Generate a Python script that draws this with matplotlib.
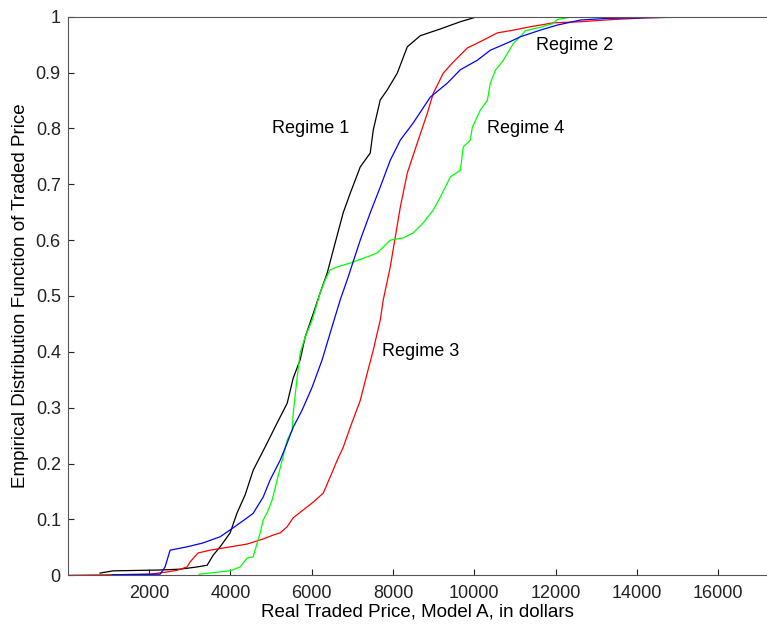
import numpy as np
import matplotlib
matplotlib.use("Agg")
import matplotlib.pyplot as plt

plt.rcParams['font.family'] = ['Liberation Sans', 'DejaVu Sans']

# Regime 1 (black)
r1_price = [795, 1115, 2272, 2764, 3183, 3429, 3577, 3749, 3995, 4167, 4364, 4561,
            4906, 5152, 5398, 5546, 5718, 5841, 6013, 6210, 6382, 6530, 6776, 6949,
            7195, 7441, 7515, 7687, 7860, 8106, 8352, 8672, 9164, 9657, 10075]
r1_cdf = [0.004, 0.008, 0.0095, 0.011, 0.015, 0.018, 0.036, 0.051, 0.076, 0.112, 0.144, 0.188,
          0.237, 0.273, 0.308, 0.353, 0.386, 0.427, 0.463, 0.506, 0.541, 0.582, 0.649, 0.684,
          0.731, 0.756, 0.797, 0.851, 0.869, 0.899, 0.946, 0.966, 0.978, 0.991, 1.0]

# Regime 2 (blue)
r2_price = [1100, 2272, 2395, 2518, 2936, 3330, 3749, 4069, 4414, 4561, 4807, 4980,
            5226, 5398, 5546, 5767, 6013, 6259, 6456, 6702, 6875, 7195, 7441, 7687,
            7933, 8180, 8500, 8918, 9336, 9657, 10075, 10395, 10813, 11133, 11625,
            12044, 12610, 13275, 14900, 15800, 17200]
r2_cdf = [0.001, 0.002, 0.015, 0.045, 0.051, 0.058, 0.069, 0.085, 0.103, 0.111, 0.140, 0.171,
          0.206, 0.237, 0.265, 0.296, 0.337, 0.386, 0.434, 0.493, 0.529, 0.600, 0.649, 0.695,
          0.743, 0.779, 0.810, 0.856, 0.881, 0.905, 0.922, 0.940, 0.953, 0.964, 0.976,
          0.985, 0.994, 0.997, 0.999, 1.0, 1.0]

# Regime 3 (red)
r3_price = [0, 2026, 2444, 2690, 2936, 3010, 3207, 3503, 3921, 4413, 4807, 5053, 5226,
            5398, 5546, 5792, 6038, 6284, 6456, 6628, 6776, 6949, 7195, 7367, 7515,
            7687, 7761, 7933, 8180, 8352, 8598, 8844, 8992, 9238, 9484, 9829, 10223,
            10567, 10961, 11379, 11945, 12610, 13422, 14259, 15563]
r3_cdf = [0.0, 0.002, 0.006, 0.009, 0.015, 0.024, 0.040, 0.045, 0.050, 0.056, 0.065, 0.072, 0.076,
          0.087, 0.103, 0.117, 0.131, 0.147, 0.176, 0.206, 0.229, 0.265, 0.313, 0.362, 0.403,
          0.457, 0.493, 0.552, 0.659, 0.720, 0.774, 0.827, 0.863, 0.899, 0.919, 0.944, 0.958,
          0.971, 0.976, 0.982, 0.989, 0.991, 0.995, 0.998, 1.0]

# Regime 4 (green)
r4_price = [3232, 3995, 4241, 4414, 4561, 4660, 4734, 4807, 4906, 5029, 5152, 5275,
            5398, 5521, 5546, 5644, 5718, 5841, 6013, 6210, 6333, 6456, 6628, 6949,
            7367, 7613, 7933, 8254, 8500, 8746, 8992, 9164, 9336, 9410, 9657, 9730,
            9903, 9952, 10149, 10321, 10395, 10518, 10715, 10813, 10961, 11207, 11256,
            11625, 11945, 12044, 12364, 12782]
r4_cdf = [0.002, 0.008, 0.015, 0.031, 0.033, 0.058, 0.076, 0.099, 0.112, 0.135, 0.171, 0.206,
          0.242, 0.260, 0.290, 0.355, 0.398, 0.427, 0.457, 0.506, 0.529, 0.547, 0.552, 0.559,
          0.570, 0.577, 0.600, 0.604, 0.613, 0.631, 0.654, 0.677, 0.702, 0.713, 0.725, 0.767,
          0.779, 0.802, 0.833, 0.850, 0.881, 0.904, 0.922, 0.934, 0.952, 0.970, 0.975,
          0.981, 0.988, 0.995, 0.999, 1.0]

x_ticks = [2000, 4000, 6000, 8000, 10000, 12000, 14000, 16000]
y_ticks = [0, 0.1, 0.2, 0.3, 0.4, 0.5, 0.6, 0.7, 0.8, 0.9, 1]
y_labels = ['0', '0.1', '0.2', '0.3', '0.4', '0.5', '0.6', '0.7', '0.8', '0.9', '1']

fig = plt.figure(figsize=(7.67, 6.25), dpi=100)
ax = fig.add_axes([0.0883, 0.0795, 0.9117, 0.8938])

lw = 0.9
ax.plot(r1_price, r1_cdf, color='black', lw=lw)
ax.plot(r3_price, r3_cdf, color='#ff0000', lw=lw)
ax.plot(r4_price, r4_cdf, color='#00ff00', lw=lw)
ax.plot(r2_price, r2_cdf, color='#0000ff', lw=lw)

ax.set_xlim(0, 17200)
ax.set_ylim(0, 1)
ax.set_xticks(x_ticks)
ax.set_xticklabels([str(t) for t in x_ticks])
ax.set_yticks(y_ticks)
ax.set_yticklabels(y_labels)
ax.tick_params(direction='in', length=4.5, width=0.8, labelsize=13, colors='#222222')
ax.tick_params(axis='x', pad=7)
ax.tick_params(axis='y', pad=5)

for s in ['left', 'bottom', 'top']:
    ax.spines[s].set_color('#555555')
    ax.spines[s].set_linewidth(0.8)
ax.spines['right'].set_visible(False)

ax.text(5021, 0.799, 'Regime 1', fontsize=13, va='center', ha='left')
ax.text(11520, 0.949, 'Regime 2', fontsize=13, va='center', ha='left')
ax.text(7729, 0.40, 'Regime 3', fontsize=13, va='center', ha='left')
ax.text(10314, 0.799, 'Regime 4', fontsize=13, va='center', ha='left')

ax.set_xlabel('Real Traded Price, Model A, in dollars', fontsize=13.5, labelpad=1)
ax.set_ylabel('Empirical Distribution Function of Traded Price', fontsize=13.5, labelpad=5)

fig.savefig('out.png', dpi=100)
